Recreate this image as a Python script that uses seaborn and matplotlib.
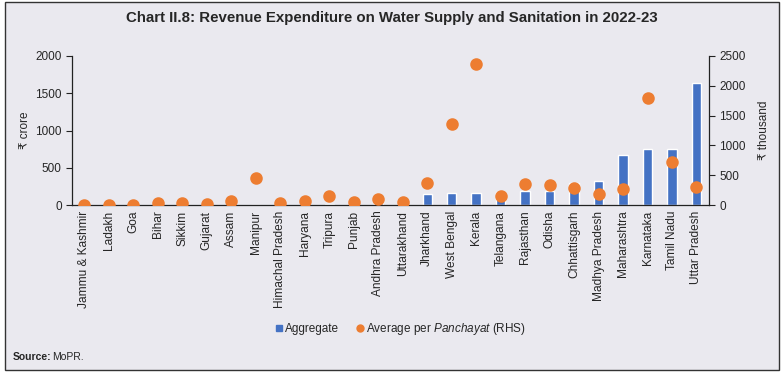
import matplotlib
matplotlib.use("Agg")
import matplotlib.pyplot as plt
import seaborn as sns
import pandas as pd
import numpy as np
from matplotlib.patches import Rectangle
from matplotlib.lines import Line2D

states = ["Jammu & Kashmir", "Ladakh", "Goa", "Bihar", "Sikkim", "Gujarat", "Assam",
          "Manipur", "Himachal Pradesh", "Haryana", "Tripura", "Punjab", "Andhra Pradesh",
          "Uttarakhand", "Jharkhand", "West Bengal", "Kerala", "Telangana", "Rajasthan",
          "Odisha", "Chhattisgarh", "Madhya Pradesh", "Maharashtra", "Karnataka",
          "Tamil Nadu", "Uttar Pradesh"]
aggregate = [1, 0, 1, 3, 1, 2, 4, 5, 2, 3, 20, 4, 30, 8, 150, 157, 165, 179, 192, 193,
             291, 322, 672, 747, 748, 1632]
avg_panchayat = [2, 0, 10, 38, 35, 15, 67, 446, 28, 61, 151, 50, 100, 45, 374, 1362, 2356,
                 151, 346, 335, 279, 184, 268, 1792, 720, 307]

df = pd.DataFrame({"state": states, "aggregate": aggregate, "avg": avg_panchayat})

BG = "#EAE9EF"
BLUE = "#4472C4"
ORANGE = "#ED7D31"

sns.set_theme(style="white")
plt.rcParams["font.family"] = ["Liberation Sans", "DejaVu Sans"]
plt.rcParams["mathtext.fontset"] = "custom"
plt.rcParams["mathtext.it"] = "Liberation Sans:italic"
plt.rcParams["mathtext.rm"] = "Liberation Sans"

fig = plt.figure(figsize=(7.84, 3.75), dpi=100, facecolor="white")
fig.patches.append(Rectangle((0.006, 0.013), 0.988, 0.982, transform=fig.transFigure,
                             facecolor=BG, edgecolor="#333333", linewidth=1.0, zorder=-10))

ax = fig.add_axes([0.092, 0.453, 0.812, 0.398])
ax.set_facecolor("none")
sns.barplot(data=df, x="state", y="aggregate", color=BLUE, width=0.38, saturation=1,
            ax=ax, zorder=2)
ax.set_ylim(0, 2000)
ax.set_yticks([0, 500, 1000, 1500, 2000])
ax.set_xlim(-0.5, len(states) - 0.5)

ax2 = ax.twinx()
sns.pointplot(data=df, x="state", y="avg", color=ORANGE, linestyle="none",
              markers="o", markersize=7, ax=ax2, zorder=3)
ax2.set_ylim(0, 2500)
ax2.set_yticks([0, 500, 1000, 1500, 2000, 2500])
ax2.set_xlim(-0.5, len(states) - 0.5)

for a in (ax, ax2):
    a.spines["top"].set_visible(False)
    a.set_xlabel("")
    a.set_ylabel("")
ax.spines["right"].set_visible(False)
ax2.spines["left"].set_visible(False)
ax2.spines["bottom"].set_visible(False)
for a in (ax, ax2):
    for s in ("left", "right", "bottom"):
        a.spines[s].set_color("#222222")
        a.spines[s].set_linewidth(0.9)

ax.set_xticks(np.arange(len(states)))
ax.set_xticklabels(states, rotation=90, fontsize=8.6)
ax.set_xticks(np.arange(len(states) + 1) - 0.5, minor=True)
ax.tick_params(axis="x", which="major", length=0, pad=4)
ax.tick_params(axis="x", which="minor", length=4, width=0.8, color="#222222", direction="out")
ax.tick_params(axis="y", length=4, width=0.8, color="#222222", direction="out",
               labelsize=8.5, left=True)
ax2.tick_params(axis="y", length=4, width=0.8, color="#222222", direction="out",
                labelsize=8.5, right=True)

ax.set_ylabel("₹ crore", fontsize=8.5, labelpad=3)
ax2.set_ylabel("₹ thousand", fontsize=8.5, rotation=90, labelpad=9)

fig.text(0.5, 0.952, "Chart II.8: Revenue Expenditure on Water Supply and Sanitation in 2022-23",
         ha="center", va="center", fontsize=10.8, fontweight="bold")

handles = [Line2D([], [], marker="s", color=BLUE, linestyle="none", markersize=5),
           Line2D([], [], marker="o", color=ORANGE, linestyle="none", markersize=5)]
labels = ["Aggregate", r"Average per $\mathit{Panchayat}$ (RHS)"]
fig.legend(handles, labels, loc="center", bbox_to_anchor=(0.51, 0.123), ncol=2,
           frameon=False, fontsize=8.5, handletextpad=0.1, columnspacing=1.4, handlelength=0.8)

fig.text(0.016, 0.048, "Source:", fontsize=7.5, fontweight="bold", va="center")
fig.text(0.066, 0.048, "MoPR.", fontsize=7.5, va="center")

fig.savefig("out.png", dpi=100, facecolor="white")
